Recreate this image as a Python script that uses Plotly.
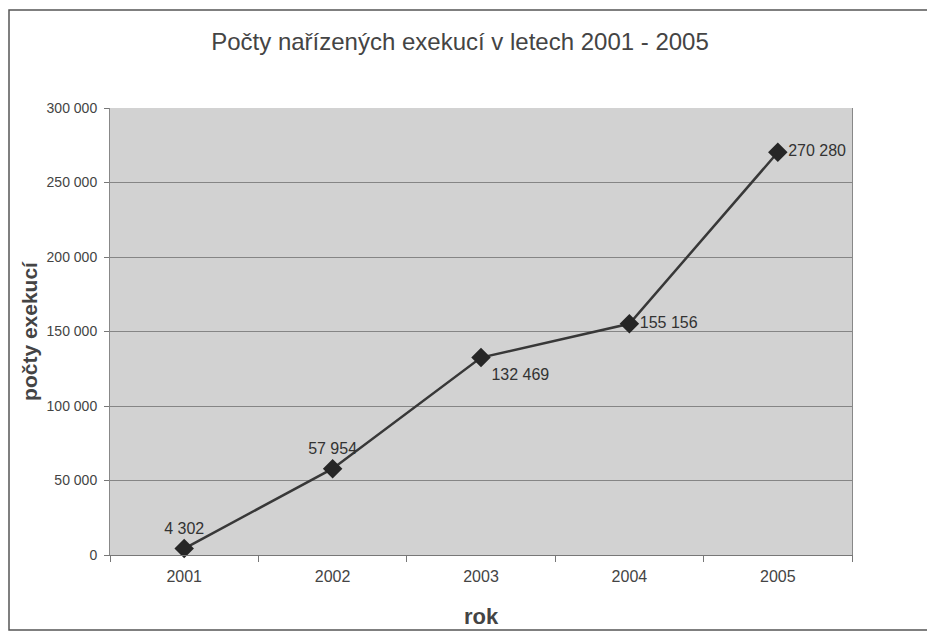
import plotly.graph_objects as go

years = ["2001", "2002", "2003", "2004", "2005"]
counts = [4302, 57954, 132469, 155156, 270280]
label_positions = ["top center", "top center", "bottom right", "middle right", "middle right"]
y_ticks = [0, 50000, 100000, 150000, 200000, 250000, 300000]

L, R, T, B = 102, 91, 100, 92
PW, PH = 935 - L - R, 639 - T - B

fig = go.Figure()
fig.add_trace(go.Scatter(
    x=years, y=counts,
    mode="lines+markers+text",
    line=dict(color="#383838", width=2.5),
    marker=dict(symbol="diamond", size=15, color="#262626"),
    text=[f"{v:,}".replace(",", " ") for v in counts],
    textposition=label_positions,
    textfont=dict(family="Liberation Sans, Arial", size=16, color="#333333"),
    cliponaxis=False,
    showlegend=False,
))

fig.update_layout(
    width=935, height=639,
    margin=dict(l=L, r=R, t=T, b=B),
    paper_bgcolor="white",
    plot_bgcolor="#d2d2d2",
    separators=", ",
    font=dict(family="Liberation Sans, Arial", color="#444444"),
    title=dict(
        text="Počty nařízených exekucí v letech 2001 - 2005",
        xref="container", x=452 / 935, xanchor="center", y=1 - 34 / 639, yanchor="middle",
        font=dict(size=24, color="#444444"),
    ),
    xaxis=dict(
        type="category",
        range=[-0.5, 4.5],
        title=dict(text="<b>rok</b>", font=dict(size=22, color="#444444"), standoff=24),
        tickfont=dict(size=16, color="#444444"),
        ticks="outside", tickson="boundaries", ticklen=6, tickcolor="#777777",
        ticklabelstandoff=7,
        showline=True, linecolor="#777777", linewidth=1,
        showgrid=False, mirror=False,
    ),
    yaxis=dict(
        range=[0, 300000],
        tickvals=y_ticks,
        tickformat=",d",
        title=dict(text="<b>počty exekucí</b>", font=dict(size=21, color="#444444"), standoff=3),
        tickfont=dict(size=14, color="#444444"),
        ticks="outside", ticklen=5, tickcolor="#777777",
        ticklabelstandoff=4,
        showline=True, linecolor="#888888", linewidth=1,
        gridcolor="#858585", gridwidth=1,
        zeroline=False,
        mirror=True,
    ),
)

# chart frame
fig.add_shape(type="rect", xref="paper", yref="paper",
              x0=-(L - 1) / PW, x1=1 + (R + 30) / PW, y0=-75 / PH, y1=1 + (T - 2) / PH,
              line=dict(color="#555555", width=1.5), fillcolor="rgba(0,0,0,0)", layer="below")

fig.write_html("out.html")
